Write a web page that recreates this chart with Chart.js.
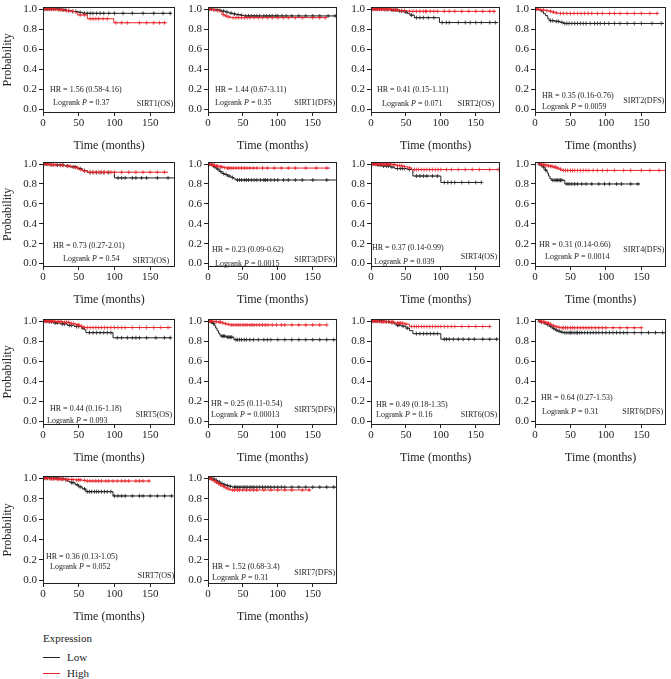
<!DOCTYPE html>
<html>
<head>
<meta charset="utf-8">
<script src="https://cdn.jsdelivr.net/npm/chart.js@4.4.0/dist/chart.umd.min.js"></script>
<style>
  body { margin: 0; background: #fff; width: 671px; height: 679px; position: relative; overflow: hidden; font-family: "Liberation Serif", serif; }
  canvas { position: absolute; }
  .leg { position: absolute; font-size: 11px; line-height: 12px; color: #222; }
  .sw { position: absolute; height: 1px; width: 17px; }
</style>
</head>
<body>
<div class="leg" style="left:43px;top:632px;">Expression</div>
<div class="sw" style="left:43px;top:657px;background:#222;"></div>
<div class="leg" style="left:67px;top:651px;">Low</div>
<div class="sw" style="left:43px;top:673px;background:#e8252b;"></div>
<div class="leg" style="left:67px;top:667px;">High</div>
<script>
// panel labels and statistics
const names = ['SIRT1(OS)', 'SIRT1(DFS)', 'SIRT2(OS)', 'SIRT2(DFS)', 'SIRT3(OS)', 'SIRT3(DFS)', 'SIRT4(OS)',
  'SIRT4(DFS)', 'SIRT5(OS)', 'SIRT5(DFS)', 'SIRT6(OS)', 'SIRT6(DFS)', 'SIRT7(OS)', 'SIRT7(DFS)'];
const hrLabels = ['HR = 1.56 (0.58-4.16)', 'HR = 1.44 (0.67-3.11)', 'HR = 0.41 (0.15-1.11)', 'HR = 0.35 (0.16-0.76)',
  'HR = 0.73 (0.27-2.01)', 'HR = 0.23 (0.09-0.62)', 'HR = 0.37 (0.14-0.99)', 'HR = 0.31 (0.14-0.66)',
  'HR = 0.44 (0.16-1.18)', 'HR = 0.25 (0.11-0.54)', 'HR = 0.49 (0.18-1.35)', 'HR = 0.64 (0.27-1.53)',
  'HR = 0.36 (0.13-1.05)', 'HR = 1.52 (0.68-3.4)'];
const pValues = ['0.37', '0.35', '0.071', '0.0059', '0.54', '0.0015', '0.039', '0.0014', '0.093', '0.00013',
  '0.16', '0.31', '0.052', '0.31'];

const xTicks = [0, 50, 100, 150];
const yTicks = [0, 0.2, 0.4, 0.6, 0.8, 1.0];

// Kaplan-Meier steps [time, survival] for the low expression group
const lowSteps = [
  [[0,1],[27,0.992],[33,0.985],[40,0.976],[50,0.967],[56,0.958],[180,0.958]],
  [[0,1],[8,0.995],[14,0.988],[20,0.98],[25,0.97],[30,0.96],[35,0.952],[40,0.945],[47,0.938],[52,0.932],[185,0.932]],
  [[0,1],[18,0.995],[28,0.99],[38,0.982],[47,0.97],[52,0.955],[56,0.94],[62,0.915],[98,0.866],[182,0.866]],
  [[0,1],[5,0.99],[9,0.972],[12,0.955],[15,0.935],[18,0.905],[20,0.885],[28,0.878],[35,0.868],[40,0.857],[182,0.857]],
  [[0,1],[8,0.995],[18,0.99],[30,0.982],[38,0.972],[48,0.955],[55,0.935],[62,0.915],[100,0.861],[185,0.861]],
  [[0,1],[4,0.99],[8,0.97],[12,0.95],[16,0.925],[20,0.905],[24,0.895],[28,0.88],[33,0.865],[37,0.85],[40,0.84],[185,0.84]],
  [[0,1],[8,0.99],[15,0.98],[28,0.97],[34,0.955],[52,0.945],[60,0.88],[100,0.815],[158,0.815]],
  [[5,1],[8,0.99],[11,0.97],[14,0.94],[17,0.91],[19,0.88],[21,0.855],[23,0.838],[42,0.8],[148,0.8]],
  [[0,1],[6,0.993],[14,0.982],[24,0.972],[34,0.958],[44,0.946],[54,0.93],[58,0.915],[60,0.885],[98,0.834],[180,0.834]],
  [[0,1],[3,0.99],[6,0.975],[9,0.955],[11,0.93],[13,0.905],[15,0.88],[17,0.86],[19,0.85],[26,0.84],[37,0.815],[185,0.815]],
  [[0,1],[20,0.995],[28,0.985],[33,0.972],[36,0.96],[44,0.95],[50,0.93],[55,0.905],[60,0.875],[100,0.82],[182,0.82]],
  [[5,1],[8,0.99],[12,0.98],[16,0.965],[20,0.95],[24,0.93],[28,0.912],[32,0.9],[36,0.89],[40,0.885],[185,0.885]],
  [[0,1],[25,0.995],[30,0.985],[34,0.97],[38,0.956],[45,0.935],[50,0.915],[55,0.895],[60,0.868],[98,0.826],[182,0.826]],
  [[0,1],[5,0.99],[10,0.978],[14,0.962],[18,0.948],[22,0.935],[26,0.928],[30,0.92],[35,0.912],[185,0.912]]
];

// Kaplan-Meier steps for the high expression group
const highSteps = [
  [[0,1],[20,0.993],[30,0.985],[38,0.977],[45,0.968],[48,0.942],[62,0.904],[99,0.864],[173,0.864]],
  [[0,1],[6,0.993],[12,0.985],[17,0.975],[20,0.945],[24,0.932],[28,0.922],[33,0.915],[170,0.915]],
  [[0,1],[30,0.992],[40,0.985],[52,0.978],[178,0.978]],
  [[0,1],[6,0.995],[10,0.99],[15,0.985],[20,0.978],[24,0.97],[28,0.963],[33,0.957],[174,0.957]],
  [[0,1],[10,0.993],[22,0.987],[32,0.978],[42,0.965],[50,0.945],[56,0.93],[63,0.918],[175,0.918]],
  [[0,1],[5,0.99],[10,0.98],[16,0.972],[22,0.965],[26,0.96],[175,0.96]],
  [[0,1],[30,0.995],[36,0.985],[45,0.975],[52,0.962],[58,0.945],[185,0.945]],
  [[5,1],[10,0.993],[15,0.985],[20,0.978],[25,0.97],[30,0.96],[34,0.948],[38,0.936],[185,0.936]],
  [[0,1],[18,0.995],[28,0.988],[38,0.975],[46,0.962],[52,0.948],[56,0.936],[180,0.936]],
  [[0,1],[8,0.995],[14,0.99],[19,0.983],[23,0.975],[27,0.968],[31,0.962],[170,0.962]],
  [[0,1],[12,0.995],[25,0.99],[35,0.98],[48,0.97],[55,0.946],[170,0.946]],
  [[5,1],[10,0.99],[15,0.98],[20,0.968],[24,0.955],[28,0.945],[32,0.938],[36,0.934],[150,0.934]],
  [[0,1],[8,0.995],[18,0.99],[30,0.987],[45,0.983],[55,0.978],[60,0.972],[150,0.972]],
  [[0,1],[4,0.99],[7,0.975],[10,0.96],[13,0.948],[16,0.935],[20,0.92],[24,0.905],[28,0.893],[32,0.884],[147,0.884]]
];

// censoring times (months)
const lowCensor = [
  [3,6,9,12,15,18,21,24,28,31,36,42,46,52,58,62,66,70,75,80,85,92,100,112,125,140,155,168,178],
  [2,5,10,13,17,22,27,33,38,43,48,54,58,62,66,70,74,80,84,88,92,97,100,106,112,120,130,140,150,160,172,182],
  [3,6,9,12,15,20,24,30,33,36,41,44,50,58,65,70,75,82,90,102,108,112,125,135,142,150,158,170,178],
  [22,25,30,33,38,42,45,48,52,56,60,64,68,72,78,84,88,92,98,104,112,120,130,140,150,165,178],
  [3,6,10,14,20,24,28,34,42,45,52,58,66,70,75,80,85,92,105,110,115,125,130,138,145,160,175],
  [2,6,10,14,18,22,26,30,35,42,45,48,52,55,58,62,66,70,75,80,82,85,90,95,100,108,115,125,135,150,170],
  [3,6,10,13,18,22,25,30,38,42,45,48,55,65,70,75,80,88,95,105,110,115,120,130,140,150,158],
  [6,9,12,15,25,28,30,32,34,36,38,45,48,52,56,60,66,72,80,90,98,105,115,122,135,145],
  [3,5,9,12,17,20,27,30,37,40,47,50,56,65,70,75,80,85,90,95,104,110,118,125,130,135,145,158,170,178],
  [2,5,8,20,22,24,28,30,32,34,40,42,45,48,52,55,60,65,72,80,85,90,100,110,120,130,140,150,160,170,180],
  [3,6,9,12,15,18,22,25,30,38,40,46,52,65,70,75,80,85,90,95,105,108,112,118,125,132,140,148,160,170,180],
  [6,9,14,18,22,26,30,34,38,42,45,48,50,52,55,58,60,63,66,70,74,78,82,86,90,95,100,105,110,115,120,125,130,140,150,160,170,180],
  [3,6,9,12,15,18,21,28,32,40,42,48,52,58,62,65,68,72,75,78,82,86,90,95,100,105,110,115,125,135,140,150,160,170,180],
  [2,4,7,9,12,16,20,24,28,32,38,40,43,46,50,53,56,60,63,66,70,74,78,82,86,90,95,100,105,110,120,130,140,150,160,170,180]
];
const highCensor = [
  [2,5,8,11,14,17,22,25,28,33,36,41,52,58,66,70,74,78,84,90,102,110,118,135,145,155,163,170],
  [3,8,14,22,26,30,36,40,44,48,52,56,60,66,72,78,85,92,100,108,115,125,135,150,160,168],
  [2,4,6,8,10,12,14,16,18,20,22,24,26,28,32,35,38,44,48,55,60,65,70,75,78,80,85,90,95,105,112,120,130,140,150,160,170,176],
  [2,4,8,12,17,22,26,30,36,40,45,50,55,60,65,70,75,80,88,95,105,112,120,130,140,150,162,172],
  [2,5,8,12,15,18,25,28,35,38,45,48,53,58,66,70,74,78,82,86,90,95,100,110,120,130,140,150,160,170],
  [2,4,7,9,12,14,18,20,24,28,30,33,36,40,44,48,52,56,60,65,70,78,85,95,105,115,125,140,155,170],
  [2,4,6,8,10,12,14,16,18,20,22,24,26,28,32,34,38,41,44,48,55,62,65,68,72,76,80,84,88,92,96,100,108,115,125,135,145,155,170,182],
  [7,9,12,14,17,19,22,24,27,29,32,36,40,43,46,50,53,56,60,64,68,72,76,82,88,95,102,112,125,135,150,162,175],
  [2,4,6,8,10,12,14,16,20,22,24,26,30,33,36,40,43,48,50,54,58,62,66,70,74,78,82,86,90,95,100,105,110,115,125,135,145,155,165,175],
  [2,4,6,10,12,16,18,21,25,29,33,36,40,43,46,50,53,56,60,63,66,70,74,78,82,86,92,98,105,110,120,130,140,150,160,170],
  [2,4,6,8,10,14,16,18,20,22,27,30,32,38,40,42,45,50,58,62,65,68,72,76,80,84,88,92,96,100,105,110,115,120,130,140,150,160,170],
  [7,9,12,14,17,19,22,26,30,34,38,40,43,46,50,53,56,60,64,68,72,76,80,85,90,95,100,110,120,130,140,150],
  [2,4,6,10,12,14,16,20,22,24,26,28,32,34,36,40,42,47,50,52,58,62,66,70,74,78,82,88,92,98,104,110,115,120,130,135,140,148],
  [2,5,9,12,15,18,22,26,30,35,38,42,45,50,55,60,65,70,80,90,100,110,120,135,145]
];

// layout: plot area edges on the page
const cols = [[43, 177], [208, 339], [371, 502], [535, 668]];
const rows = [[5, 109], [160, 263], [317, 421], [474, 580]];  // pixel of 1.0 and 0.0
// text placement per panel: [hr dx, hr y, logrank dx, logrank y, name dx from right, name y]
const textPos = [
  [7,0.20,10,0.07,2,0.06], [7,0.20,7,0.07,2,0.07], [6,0.20,11,0.06,6,0.06], [7,0.136,7,0.03,2,0.09],
  [10,0.18,20,0.05,6,0.03], [4,0.136,7,0.0,2,0.04], [1,0.153,3,0.02,3,0.07], [4,0.185,10,0.07,2,0.14],
  [7,0.13,4,0.01,3,0.07], [3,0.18,3,0.07,2,0.12], [5,0.17,5,0.07,3,0.07], [6,0.23,7,0.10,3,0.10],
  [3,0.23,7,0.13,1,0.04], [4,0.135,4,0.025,2,0.07]
];

const LOW = '#222', HIGH = '#e8252b';
const FONT = '"Liberation Serif", "Times New Roman", serif';
const Y_MIN = -0.035, Y_MAX = 1.025, X_MAX = 185;
const PT = 4, PR = 3, XH = 41;

function survAt(steps, t) {
  let s = steps[0][1];
  for (const [x, y] of steps) { if (x <= t) s = y; }
  return s;
}

const framePlugin = {
  id: 'frame',
  afterDraw(chart) {
    const {ctx, chartArea: a, scales: {y}} = chart;
    const i = chart.options.panelIndex;
    const [hx, hy, px, py, nx, ny] = textPos[i];
    ctx.save();
    ctx.strokeStyle = '#222';
    ctx.lineWidth = 1;
    ctx.strokeRect(Math.round(a.left) + 0.5, Math.round(a.top) + 0.5,
      Math.round(a.right - a.left) - 1, Math.round(a.bottom - a.top) - 1);
    ctx.fillStyle = '#222';
    ctx.textBaseline = 'middle';
    ctx.font = '8px ' + FONT;
    ctx.textAlign = 'left';
    ctx.fillText(hrLabels[i], a.left + hx, y.getPixelForValue(hy));
    // Logrank P = ...
    let x = a.left + px;
    const yy = y.getPixelForValue(py);
    ctx.fillText('Logrank ', x, yy);
    x += ctx.measureText('Logrank ').width;
    ctx.font = 'italic 8px ' + FONT;
    ctx.fillText('P', x, yy);
    x += ctx.measureText('P').width;
    ctx.font = '8px ' + FONT;
    ctx.fillText(' = ' + pValues[i], x, yy);
    ctx.textAlign = 'right';
    ctx.fillText(names[i], a.right - nx, y.getPixelForValue(ny));
    ctx.restore();
  }
};

names.forEach((name, i) => {
  const r = Math.floor(i / 4), c = i % 4;
  const [L, R] = cols[c];
  const [y1, y0] = rows[r];
  const k = y0 - y1;
  const top = Math.round(y1 - (Y_MAX - 1) * k);
  const bottom = Math.round(y0 - Y_MIN * k);
  const yw = c === 0 ? 43 : 30;

  const cv = document.createElement('canvas');
  cv.width = (R - L) + yw + PR;
  cv.height = (bottom - top) + PT + XH;
  cv.style.left = (L - yw) + 'px';
  cv.style.top = (top - PT) + 'px';
  document.body.appendChild(cv);

  const stepData = s => s.map(([x, y]) => ({x, y}));
  const censorData = (s, ts) => ts.map(t => ({x: t, y: survAt(s, t)}));

  new Chart(cv, {
    type: 'line',
    data: {
      datasets: [
        {data: stepData(highSteps[i]), borderColor: HIGH, borderWidth: 1, stepped: true, pointRadius: 0, fill: false},
        {data: censorData(highSteps[i], highCensor[i]), showLine: false, pointStyle: 'cross', pointRadius: 2,
          borderColor: HIGH, borderWidth: 0.8},
        {data: stepData(lowSteps[i]), borderColor: LOW, borderWidth: 1, stepped: true, pointRadius: 0, fill: false},
        {data: censorData(lowSteps[i], lowCensor[i]), showLine: false, pointStyle: 'cross', pointRadius: 2,
          borderColor: LOW, borderWidth: 0.8}
      ]
    },
    options: {
      panelIndex: i,
      responsive: false,
      animation: false,
      events: [],
      layout: {padding: {top: PT, right: PR, left: 0, bottom: 0}},
      plugins: {legend: {display: false}, tooltip: {enabled: false}},
      scales: {
        x: {
          type: 'linear', min: 0, max: X_MAX,
          afterFit: s => { s.height = XH; },
          afterBuildTicks: s => { s.ticks = xTicks.map(v => ({value: v})); },
          grid: {drawOnChartArea: false, drawTicks: true, tickLength: 3, color: '#222'},
          border: {display: false},
          ticks: {font: {family: FONT, size: 11}, color: '#222', padding: 1, maxRotation: 0},
          title: {display: true, text: 'Time (months)', font: {family: FONT, size: 12}, color: '#222',
            padding: {top: 0, bottom: 1}}
        },
        y: {
          type: 'linear', min: Y_MIN, max: Y_MAX,
          afterFit: s => { s.width = yw; },
          afterBuildTicks: s => { s.ticks = yTicks.map(v => ({value: v})); },
          grid: {drawOnChartArea: false, drawTicks: true, tickLength: 4, color: '#222'},
          border: {display: false},
          ticks: {font: {family: FONT, size: 11}, color: '#222', padding: 2, callback: v => v.toFixed(1)},
          title: {display: c === 0, text: 'Probability', font: {family: FONT, size: 12}, color: '#222',
            padding: {top: 1, bottom: 0}}
        }
      }
    },
    plugins: [framePlugin]
  });
});
</script>
</body>
</html>
